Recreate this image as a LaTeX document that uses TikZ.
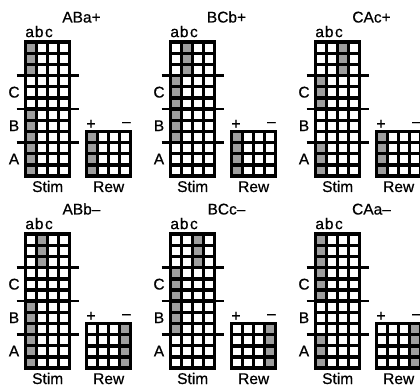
\documentclass[tikz,border=0pt]{standalone}
\usepackage{fontspec}
\setmainfont{Liberation Sans}[FakeBold=0.6]
\tikzset{
  lbl/.style={inner sep=0pt, outer sep=0pt, font=\fontsize{15.5}{16}\selectfont},
  shadecell/.style={fill=black!38},
  sepline/.style={line width=2.6pt},
}
% cell pitch: 11.0 (x), 11.15 (y); gap 3.4; white square 7.6 x 7.75
\newcommand\drawpanel[6]{%
\begin{scope}[shift={(#1,#2)}]
  % stimulus grid
  \fill[black] (0,0) rectangle (47.4,137.2);
  \foreach \c in {0,...,3}{\foreach \r in {0,...,11}{\fill[white] (3.4+\c*11.0,3.4+\r*11.15) rectangle ++(7.6,7.75);}}
  \foreach \c/\r in {#5}{\fill[shadecell] (3.4+\c*11.0,3.4+\r*11.15) rectangle ++(7.6,7.75);}
  \foreach \k in {3,6,9}{\draw[sepline] (-7.5,1.7+\k*11.15) -- (55,1.7+\k*11.15);}
  \node[lbl,anchor=base] (#3title) at (57.5,-18) {#4};
  \node[lbl,anchor=base] (#3a) at (5.7,-3.4) {a};
  \node[lbl,anchor=base] (#3b) at (15.2,-3.4) {b};
  \node[lbl,anchor=base] (#3c) at (24.9,-3.4) {c};
  \node[lbl] (#3C) at (-10,51.7) {C};
  \node[lbl] (#3B) at (-10,85.2) {B};
  \node[lbl] (#3A) at (-10,118.6) {A};
  \node[lbl,anchor=base] (#3stim) at (23.7,151.5) {Stim};
  % reward grid
  \begin{scope}[shift={(61,89.4)}]
    \fill[black] (0,0) rectangle (47.4,47.8);
    \foreach \c in {0,...,3}{\foreach \r in {0,...,3}{\fill[white] (3.4+\c*11.0,3.4+\r*11.1) rectangle ++(7.6,7.7);}}
    \foreach \r in {0,...,3}{\fill[shadecell] (3.4+#6*11.0,3.4+\r*11.1) rectangle ++(7.6,7.7);}
    \node[lbl] (#3plus) at (6,-5.5) {+};
    \node[lbl] (#3minus) at (41.4,-5.5) {–};
    \node[lbl,anchor=base] (#3rew) at (23.7,62.1) {Rew};
  \end{scope}
\end{scope}}
\begin{document}
\begin{tikzpicture}[x=1pt,y=-1pt]
\useasboundingbox (0,0) rectangle (420,387);
\drawpanel{24}{40.5}{p1}{ABa+}{0/0,0/1,0/2,0/6,0/7,0/8,0/9,0/10,0/11}{0}
\drawpanel{169}{40.5}{p2}{BCb+}{1/0,1/1,1/2,0/3,0/4,0/5,0/6,0/7,0/8}{0}
\drawpanel{314}{40.5}{p3}{CAc+}{2/0,2/1,2/2,0/3,0/4,0/5,0/9,0/10,0/11}{0}
\drawpanel{24}{232.5}{p4}{ABb–}{1/0,1/1,1/2,0/6,0/7,0/8,0/9,0/10,0/11}{3}
\drawpanel{169}{232.5}{p5}{BCc–}{2/0,2/1,2/2,0/3,0/4,0/5,0/6,0/7,0/8}{3}
\drawpanel{314}{232.5}{p6}{CAa–}{0/0,0/1,0/2,0/3,0/4,0/5,0/9,0/10,0/11}{3}
\end{tikzpicture}
\end{document}
